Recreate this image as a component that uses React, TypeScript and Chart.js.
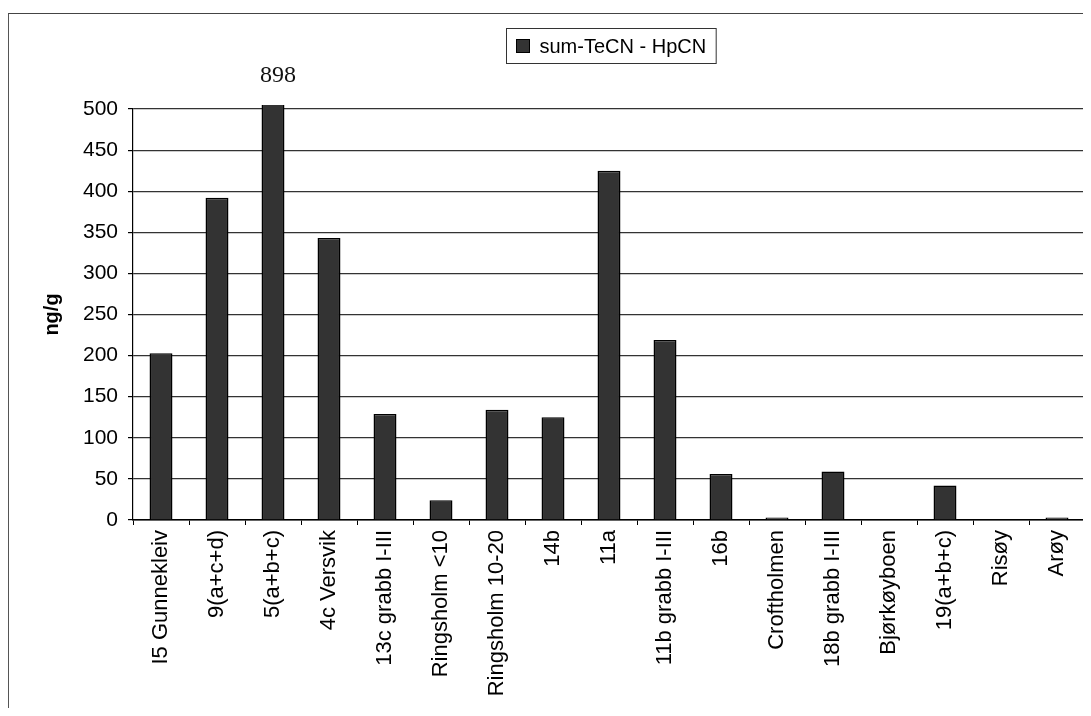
import React, { useEffect, useRef } from "react";
import { Chart, registerables } from "chart.js";

Chart.register(...registerables);

const categories = [
  "I5 Gunnekleiv",
  "9(a+c+d)",
  "5(a+b+c)",
  "4c Versvik",
  "13c grabb I-III",
  "Ringsholm <10",
  "Ringsholm 10-20",
  "14b",
  "11a",
  "11b grabb I-III",
  "16b",
  "Croftholmen",
  "18b grabb I-III",
  "Bjørkøyboen",
  "19(a+b+c)",
  "Risøy",
  "Arøy",
];
const seriesName = "sum-TeCN - HpCN";
const values = [203, 392, 898, 343, 129, 24, 134, 125, 425, 219, 56, 3, 59, 0, 42, 0, 3];
const yMin = 0;
const yMax = 500;
const yStep = 50;
const yTitle = "ng/g";

const SANS = '"Liberation Sans", Arial, sans-serif';
const SERIF = '"Liberation Serif", "Times New Roman", serif';

const legendBoxPlugin = {
  id: "legendBoxPlugin",
  afterDraw(chart: any) {
    const ctx = chart.ctx;
    const ds = chart.data.datasets[0];
    const area = chart.chartArea;
    ctx.save();
    ctx.font = `20px ${SANS}`;
    const text = ds.label;
    const tw = ctx.measureText(text).width;
    const sq = 13;
    const padX = 10;
    const gap = 10;
    const w = padX + sq + gap + tw + padX;
    const h = 35;
    const cx = (area.left + area.right) / 2 + 2;
    const x = Math.round(cx - w / 2) + 0.5;
    const y = 20.5;
    ctx.fillStyle = "#fff";
    ctx.fillRect(x, y, w, h);
    ctx.strokeStyle = "#333";
    ctx.lineWidth = 1;
    ctx.strokeRect(x, y, w, h);
    ctx.fillStyle = ds.backgroundColor;
    ctx.fillRect(x + padX, y + h / 2 - sq / 2, sq, sq);
    ctx.strokeStyle = "#000";
    ctx.strokeRect(x + padX, y + h / 2 - sq / 2, sq, sq);
    ctx.fillStyle = "#000";
    ctx.textBaseline = "middle";
    ctx.textAlign = "left";
    ctx.fillText(text, x + padX + sq + gap, y + h / 2 + 1);
    ctx.restore();
  },
};

const overflowLabelPlugin = {
  id: "overflowLabelPlugin",
  afterDatasetsDraw(chart: any) {
    const ctx = chart.ctx;
    const meta = chart.getDatasetMeta(0);
    const area = chart.chartArea;
    const data = chart.data.datasets[0].data as number[];
    ctx.save();
    ctx.font = `24px ${SERIF}`;
    ctx.fillStyle = "#111";
    ctx.textAlign = "center";
    ctx.textBaseline = "middle";
    data.forEach((v, i) => {
      if (v > yMax) {
        const bar = meta.data[i];
        ctx.fillText(String(v), bar.x + 5, area.top - 33);
      }
    });
    ctx.restore();
  },
};

export default function App() {
  const canvasRef = useRef<HTMLCanvasElement | null>(null);

  useEffect(() => {
    if (!canvasRef.current) return;
    const chart = new Chart(canvasRef.current, {
      type: "bar",
      data: {
        labels: categories,
        datasets: [
          {
            label: seriesName,
            data: values,
            backgroundColor: "#333333",
            borderColor: "#000",
            borderWidth: 1.5,
            barPercentage: 0.41,
            categoryPercentage: 1,
            clip: { left: false, right: false, bottom: false, top: 4 } as any,
          },
        ],
      },
      options: {
        animation: false,
        responsive: true,
        maintainAspectRatio: false,
        layout: { padding: { left: 0, right: 6, top: 101, bottom: 0 } },
        plugins: {
          legend: { display: false },
          tooltip: { enabled: false },
        },
        scales: {
          x: {
            type: "category",
            offset: true,
            grid: {
              display: true,
              drawOnChartArea: false,
              offset: true,
              tickLength: 5,
              color: "#000",
              lineWidth: 1,
            },
            border: { display: true, color: "#000", width: 1.5 },
            ticks: {
              autoSkip: false,
              maxRotation: 90,
              minRotation: 90,
              padding: 5,
              color: "#000",
              font: { family: SANS, size: 22 },
            },
            afterFit(scale: any) {
              scale.height = 188;
            },
          },
          y: {
            min: yMin,
            max: yMax,
            grid: {
              color: "#333",
              lineWidth: 1.2,
              tickLength: 5,
              tickColor: "#000",
            },
            border: { display: true, color: "#000", width: 1.2 },
            ticks: {
              stepSize: yStep,
              padding: 10,
              color: "#000",
              font: { family: SANS, size: 21 },
            },
            title: {
              display: true,
              text: yTitle,
              color: "#000",
              font: { family: SANS, size: 20, weight: "bold" },
              padding: { top: 32, bottom: 0 },
            },
            afterFit(scale: any) {
              scale.width = 125;
            },
          },
        },
      },
      plugins: [overflowLabelPlugin, legendBoxPlugin],
    });
    return () => chart.destroy();
  }, []);

  return (
    <div style={{ position: "relative", width: 1083, height: 700 }}>
      <div
        style={{
          position: "absolute",
          left: 0,
          top: 5,
          width: 1100,
          height: 702,
          borderLeft: "1.5px solid #555",
          borderTop: "1.5px solid #444",
          borderBottom: "1.5px solid #777",
          boxSizing: "border-box",
        }}
      />
      <div style={{ position: "absolute", left: 0, top: 0, width: 1083, height: 700 }}>
        <canvas ref={canvasRef} />
      </div>
    </div>
  );
}
